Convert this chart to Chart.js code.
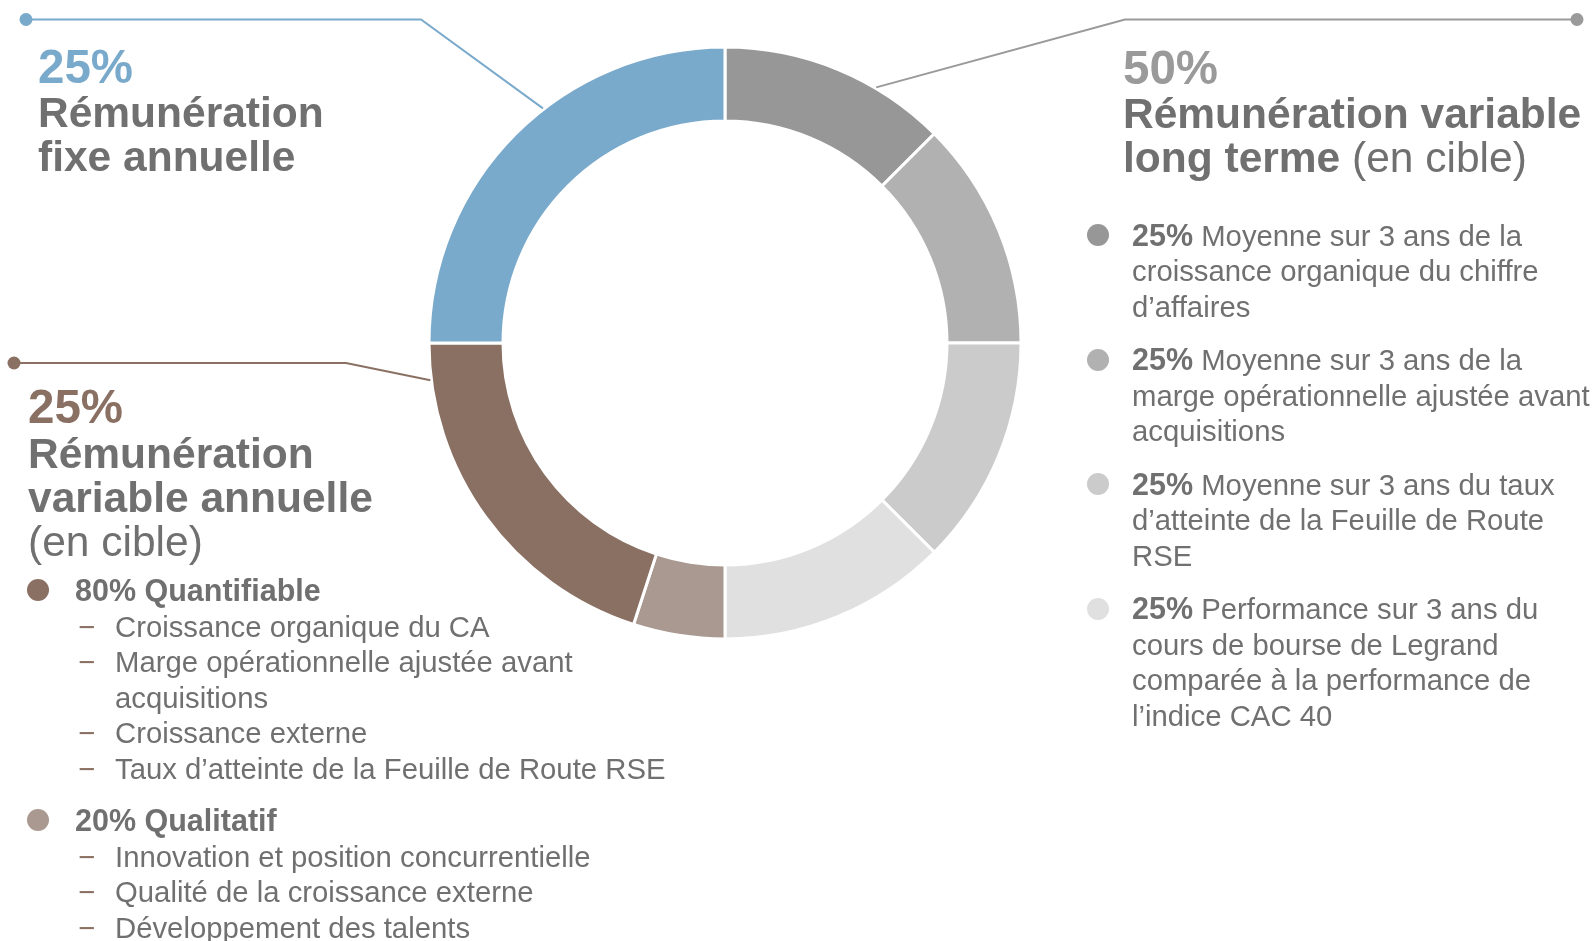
<!DOCTYPE html>
<html><head><meta charset="utf-8">
<script src="https://cdn.jsdelivr.net/npm/chart.js@4/dist/chart.umd.min.js"></script>
<style>
html,body{margin:0;padding:0;background:#fff;width:1596px;height:941px;overflow:hidden;}
#wrap{position:relative;width:1596px;height:941px;font-family:"Liberation Sans",Arial,sans-serif;color:#707070;}
#c{position:absolute;left:0;top:0;}
.t{position:absolute;white-space:nowrap;}
.pct{font-size:47.5px;line-height:47.5px;font-weight:bold;}
.ttl{font-size:42.5px;line-height:44px;font-weight:bold;}
.ttl span{font-weight:normal;}
.body{font-size:29.3px;line-height:35.6px;}
.body b{font-weight:bold;font-size:30.5px;}
.dot{position:absolute;width:22px;height:22px;border-radius:50%;}
.dash{position:absolute;font-size:29.3px;line-height:35.6px;}
</style></head>
<body><div id="wrap"><canvas id="c" width="1596" height="941"></canvas></div>
<script>
// ---- data ----
const categories = [
  "LT – Croissance organique du chiffre d'affaires",
  "LT – Marge opérationnelle ajustée",
  "LT – Feuille de Route RSE",
  "LT – Performance boursière vs CAC 40",
  "Annuelle – Qualitatif",
  "Annuelle – Quantifiable",
  "Fixe annuelle"
];
const shares = [12.5, 12.5, 12.5, 12.5, 5, 20, 25];
const groupPercents = ["25%", "50%", "25%"]; // fixe, long terme, annuelle
const ltWeights = ["25%", "25%", "25%", "25%"];
const ltItems = [
  ["Moyenne sur 3 ans de la", "croissance organique du chiffre", "d’affaires"],
  ["Moyenne sur 3 ans de la", "marge opérationnelle ajustée avant", "acquisitions"],
  ["Moyenne sur 3 ans du taux", "d’atteinte de la Feuille de Route", "RSE"],
  ["Performance sur 3 ans du", "cours de bourse de Legrand", "comparée à la performance de", "l’indice CAC 40"]
];
const annualWeights = ["80%", "20%"];
const annualNames = ["Quantifiable", "Qualitatif"];
const annualItems = [
  [["Croissance organique du CA"], ["Marge opérationnelle ajustée avant", "acquisitions"], ["Croissance externe"], ["Taux d’atteinte de la Feuille de Route RSE"]],
  [["Innovation et position concurrentielle"], ["Qualité de la croissance externe"], ["Développement des talents"]]
];

// ---- styles ----
const colors = ["#979797", "#b1b1b1", "#cbcbcb", "#e0e0e0", "#aa9991", "#8a7063", "#7aaacb"];

const wrap = document.getElementById('wrap');
function add(cls, html, left, top, style) {
  const d = document.createElement('div');
  d.className = cls; d.innerHTML = html;
  d.style.left = left + 'px'; d.style.top = top + 'px';
  if (style) Object.assign(d.style, style);
  wrap.appendChild(d); return d;
}
function dot(cx, cy, color) {
  const d = document.createElement('div');
  d.className = 'dot'; d.style.left = (cx - 11) + 'px'; d.style.top = (cy - 11) + 'px';
  d.style.background = color; wrap.appendChild(d);
}

// Top-left: fixe
add('t pct', groupPercents[0], 38, 42.8, {color: colors[6]});
add('t ttl', 'Rémunération<br>fixe annuelle', 38, 91.3);
// Right: long terme
add('t pct', groupPercents[1], 1123, 43.8, {color: "#9a9a9a"});
add('t ttl', 'Rémunération variable<br>long terme <span>(en cible)</span>', 1123, 91.8);
// Bottom-left: annuelle
add('t pct', groupPercents[2], 28, 382.8, {color: colors[5]});
add('t ttl', 'Rémunération<br>variable annuelle<br><span>(en cible)</span>', 28, 432.3);

// Right bullet list
const ltTops = [217.5, 342, 466.5, 591];
ltItems.forEach((lines, i) => {
  dot(1098, ltTops[i] + 17.5, colors[i]);
  add('t body', '<b>' + ltWeights[i] + '</b> ' + lines.join('<br>'), 1132, ltTops[i]);
});

// Left annual list
const annTops = [572.5, 802.5];
const annColors = [colors[5], colors[4]];
annualItems.forEach((items, i) => {
  dot(38, annTops[i] + 17.5, annColors[i]);
  add('t body', '<b>' + annualWeights[i] + ' ' + annualNames[i] + '</b>', 75, annTops[i]);
  let top = annTops[i] + 36;
  items.forEach(lines => {
    add('dash', '−', 78, top, {color: colors[5]});
    add('t body', lines.join('<br>'), 115, top);
    top += 35.6 * lines.length;
  });
});

// Leader lines plugin
const leaders = [
  {index: 6, frac: 0.58, color: "#7aaacb", pts: [[421, 19.5], [26, 19.5]]},
  {index: 0, frac: 0.68, color: "#9a9a9a", pts: [[1125, 19.5], [1577, 19.5]]},
  {index: 5, frac: 0.90, color: "#8a7063", pts: [[346, 363], [14, 363]]}
];
const leaderPlugin = {
  id: 'leaders',
  afterDatasetsDraw(chart) {
    const c = chart.ctx;
    const meta = chart.getDatasetMeta(0);
    leaders.forEach(L => {
      const arc = meta.data[L.index];
      const p = arc.getProps(['x', 'y', 'startAngle', 'endAngle', 'outerRadius'], true);
      const a = p.startAngle + L.frac * (p.endAngle - p.startAngle);
      const sx = p.x + Math.cos(a) * (p.outerRadius + 1);
      const sy = p.y + Math.sin(a) * (p.outerRadius + 1);
      c.save();
      c.strokeStyle = L.color; c.lineWidth = 2;
      c.beginPath(); c.moveTo(sx, sy);
      L.pts.forEach(q => c.lineTo(q[0], q[1]));
      c.stroke();
      const end = L.pts[L.pts.length - 1];
      c.fillStyle = L.color;
      c.beginPath(); c.arc(end[0], end[1], 6.5, 0, Math.PI * 2); c.fill();
      c.restore();
    });
  }
};

new Chart(document.getElementById('c'), {
  type: 'doughnut',
  data: {labels: categories, datasets: [{data: shares, backgroundColor: colors, borderColor: '#ffffff', borderWidth: 3, hoverOffset: 0}]},
  options: {
    responsive: false, animation: false, events: [],
    cutout: '75%',
    layout: {padding: {left: 427.5, right: 573.5, top: 45.5, bottom: 300.5}},
    plugins: {legend: {display: false}, tooltip: {enabled: false}}
  },
  plugins: [leaderPlugin]
});
</script></body></html>
